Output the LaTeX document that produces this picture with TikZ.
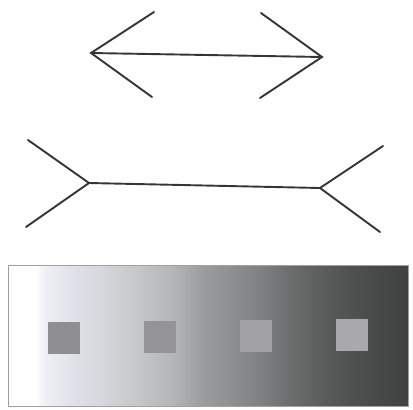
\documentclass[tikz,border=0pt]{standalone}
\usepackage{amsmath,amssymb}
\usetikzlibrary{positioning}

\definecolor{inkgrey}{HTML}{353535}
\definecolor{framegrey}{HTML}{A0A0A0}
\definecolor{sqA}{HTML}{8F8F91}
\definecolor{sqB}{HTML}{949496}
\definecolor{sqC}{HTML}{A2A2A4}
\definecolor{sqD}{HTML}{A9A9AB}
\definecolor{rA}{HTML}{EEF0F4}
\definecolor{rB}{HTML}{E0E4EA}
\definecolor{rC}{HTML}{D5D8DC}
\definecolor{rD}{HTML}{C4C6C9}
\definecolor{rE}{HTML}{B5B7B9}
\definecolor{rF}{HTML}{999B9D}
\definecolor{rG}{HTML}{848688}
\definecolor{rH}{HTML}{6C6E6E}
\definecolor{rI}{HTML}{5C5E5E}
\definecolor{rJ}{HTML}{505252}
\definecolor{rK}{HTML}{474949}
\definecolor{rL}{HTML}{404242}
\pgfdeclarehorizontalshading{greyramp}{100bp}{%
  color(0bp)=(white); color(25bp)=(white); color(28.5bp)=(white);
  color(29.6bp)=(rA); color(32.75bp)=(rB); color(36.5bp)=(rC);
  color(41.5bp)=(rD); color(45.25bp)=(rE); color(49.6bp)=(rF);
  color(55.25bp)=(rG); color(60.25bp)=(rH); color(64bp)=(rI);
  color(67.75bp)=(rJ); color(71.5bp)=(rK);
  color(75bp)=(rL); color(100bp)=(rL)}

\begin{document}
\begin{tikzpicture}[x=1pt,y=-1pt]
\tikzset{
  fin/.style={line width=1.9pt,draw=inkgrey,line cap=round},
  patch/.style={rectangle,minimum size=32pt,inner sep=0pt,draw=none},
  ramp/.style={shading=greyramp,draw=framegrey,line width=0.6pt}
}
\useasboundingbox (0,0) rectangle (413,410);
% arrows pointing outwards
\coordinate (n_a0) at (91,53);
\coordinate (n_a1) at (322,57);
\coordinate (n_a0u) at (154,12);
\coordinate (n_a0d) at (152,97);
\coordinate (n_a1u) at (261,13);
\coordinate (n_a1d) at (260,98);
\draw[fin] (n_a0) -- (n_a1);
\draw[fin] (n_a0u) -- (n_a0) -- (n_a0d);
\draw[fin] (n_a1u) -- (n_a1) -- (n_a1d);
% fins pointing inwards
\coordinate (n_b0) at (89,183);
\coordinate (n_b1) at (320,188);
\coordinate (n_b0u) at (28,140);
\coordinate (n_b0d) at (26,227);
\coordinate (n_b1u) at (383,146);
\coordinate (n_b1d) at (380,232);
\draw[fin] (n_b0) -- (n_b1);
\draw[fin] (n_b0u) -- (n_b0) -- (n_b0d);
\draw[fin] (n_b1u) -- (n_b1) -- (n_b1d);
% grey ramp with patches
\path[ramp] (8,265) rectangle (408,406);
\node[patch,fill=sqA] (n_s1) at (64,338) {};
\node[patch,fill=sqB] (n_s2) at (160,337) {};
\node[patch,fill=sqC] (n_s3) at (256,336) {};
\node[patch,fill=sqD] (n_s4) at (351.5,335) {};
\end{tikzpicture}
\end{document}
